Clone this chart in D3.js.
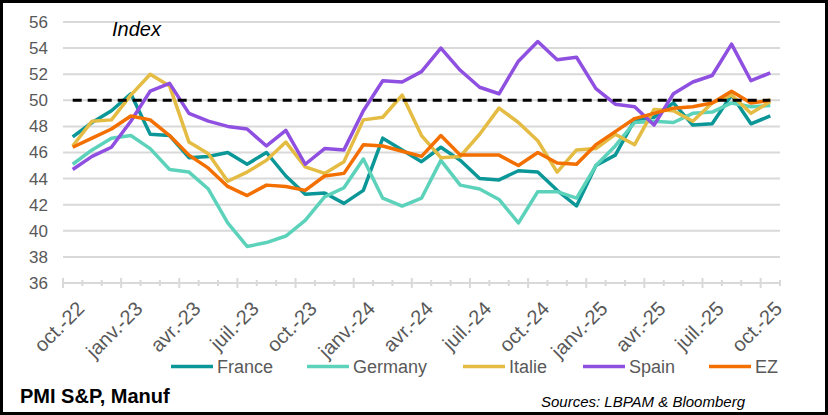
<!DOCTYPE html>
<html>
<head>
<meta charset="utf-8">
<script src="https://cdn.jsdelivr.net/npm/d3@7"></script>
<style>
  body { margin: 0; background: #fff; }
  svg { font-family: "Liberation Sans", Arial, sans-serif; }
</style>
</head>
<body>
<svg id="chart"></svg>
<script>
let months = ['oct.-22','nov.-22','déc.-22','janv.-23','févr.-23','mars-23','avr.-23','mai-23','juin-23','juil.-23','août-23','sept.-23',
  'oct.-23','nov.-23','déc.-23','janv.-24','févr.-24','mars-24','avr.-24','mai-24','juin-24','juil.-24','août-24','sept.-24',
  'oct.-24','nov.-24','déc.-24','janv.-25','févr.-25','mars-25','avr.-25','mai-25','juin-25','juil.-25','août-25','sept.-25','oct.-25']

let france  = [47.2,48.3,49.2,50.5,47.4,47.3,45.6,45.7,46.0,45.1,46.0,44.2,42.8,42.9,42.1,43.1,47.1,46.2,45.3,46.4,45.4,44.0,43.9,44.6,44.5,43.1,41.9,45.0,45.8,48.5,48.7,49.8,48.1,48.2,50.4,48.2,48.8]
let germany = [45.1,46.2,47.1,47.3,46.3,44.7,44.5,43.2,40.6,38.8,39.1,39.6,40.8,42.6,43.3,45.5,42.5,41.9,42.5,45.4,43.5,43.2,42.4,40.6,43.0,43.0,42.5,45.0,46.5,48.3,48.4,48.3,49.0,49.1,49.8,49.5,49.6]
let italie  = [46.5,48.4,48.5,50.4,52.0,51.1,46.8,45.9,43.8,44.5,45.4,46.8,44.9,44.4,45.3,48.5,48.7,50.4,47.3,45.6,45.7,47.4,49.4,48.3,46.9,44.5,46.2,46.3,47.4,46.6,49.3,49.2,48.4,49.8,50.4,49.0,49.9]
let spain   = [44.7,45.7,46.4,48.4,50.7,51.3,49.0,48.4,48.0,47.8,46.5,47.7,45.1,46.3,46.2,49.2,51.5,51.4,52.2,54.0,52.3,51.0,50.5,53.0,54.5,53.1,53.3,50.9,49.7,49.5,48.1,50.5,51.4,51.9,54.3,51.5,52.1]
let ez      = [46.4,47.1,47.8,48.8,48.5,47.3,45.8,44.8,43.4,42.7,43.5,43.4,43.1,44.2,44.4,46.6,46.5,46.1,45.7,47.3,45.8,45.8,45.8,45.0,46.0,45.2,45.1,46.6,47.6,48.6,49.0,49.4,49.5,49.8,50.7,49.8,50.0]
let threshold = 50

let seriesNames  = ['France','Germany','Italie','Spain','EZ']
let seriesColors = ['#0b9797','#5cd2bb','#e5bc43','#8f4fe0','#f26f00']
let yTicks = [36,38,40,42,44,46,48,50,52,54,56]

let width = 828
let height = 415
let padLeft = 63
let padRight = 780
let padTop = 22
let padBottom = 283

let svg = d3.select('#chart').attr('width', width).attr('height', height)

let xScale = d3.scaleBand().domain(months).range([padLeft, padRight])
let yScale = d3.scaleLinear().domain([36, 56]).range([padBottom, padTop])
let cx = (m) => xScale(m) + xScale.bandwidth() / 2

// frame
svg.append('rect').attr('x', 1.5).attr('y', 1.5).attr('width', width - 3).attr('height', height - 3)
  .attr('fill', 'none').attr('stroke', '#000').attr('stroke-width', 3)

// gridlines
svg.append('g').selectAll('line').data(yTicks.slice(1)).enter().append('line')
  .attr('x1', padLeft).attr('x2', padRight)
  .attr('y1', d => yScale(d)).attr('y2', d => yScale(d))
  .attr('stroke', '#d9d9d9').attr('stroke-width', 2)

// y axis labels
let yAxis = d3.axisLeft(yScale).tickValues(yTicks).tickSize(0).tickPadding(15)
let yg = svg.append('g').attr('transform', 'translate(' + padLeft + ',0)').call(yAxis)
yg.select('.domain').remove()
yg.selectAll('text').attr('font-size', 17).attr('fill', '#595959').attr('font-family', '"Liberation Sans", Arial, sans-serif')

// x axis line and ticks
svg.append('line').attr('x1', padLeft).attr('x2', padRight).attr('y1', padBottom).attr('y2', padBottom)
  .attr('stroke', '#d9d9d9').attr('stroke-width', 2)
let bounds = months.map(m => xScale(m)).concat([padRight])
svg.append('g').selectAll('line').data(bounds).enter().append('line')
  .attr('x1', d => d).attr('x2', d => d)
  .attr('y1', (d, i) => i % 3 === 0 ? padBottom - 5 : padBottom - 3)
  .attr('y2', (d, i) => i % 3 === 0 ? padBottom + 5 : padBottom + 3)
  .attr('stroke', '#d9d9d9').attr('stroke-width', 2)

// x labels
svg.append('g').selectAll('text').data(months.filter((m, i) => i % 3 === 0)).enter().append('text')
  .attr('transform', d => 'translate(' + (cx(d) + 8) + ',' + (padBottom + 22) + ') rotate(-45)')
  .attr('text-anchor', 'end').attr('dy', '0.35em')
  .attr('font-size', 20).attr('fill', '#595959')
  .text(d => d)

// lines
let allSeries = [france, germany, italie, spain, ez]
let line = d3.line().x((d, i) => cx(months[i])).y(d => yScale(d))
allSeries.forEach((s, k) => {
  svg.append('path').datum(s).attr('d', line)
    .attr('fill', 'none').attr('stroke', seriesColors[k]).attr('stroke-width', 3.5)
    .attr('stroke-linejoin', 'round')
})

// 50 threshold
svg.append('path').datum(months.map(() => threshold)).attr('d', line)
  .attr('fill', 'none').attr('stroke', '#000').attr('stroke-width', 3)
  .attr('stroke-dasharray', '9,6')

// title
svg.append('text').attr('x', 112).attr('y', 36).attr('font-size', 20).attr('font-style', 'italic')
  .attr('fill', '#000').text('Index')

// legend
let legendX = [171, 307, 463, 583, 709]
let lg = svg.append('g').selectAll('g').data(seriesNames).enter().append('g')
  .attr('transform', (d, i) => 'translate(' + legendX[i] + ',366.5)')
lg.append('line').attr('x1', 0).attr('x2', 42).attr('y1', 0).attr('y2', 0)
  .attr('stroke', (d, i) => seriesColors[i]).attr('stroke-width', 3.5)
lg.append('text').attr('x', 46).attr('dy', '0.35em').attr('font-size', 18).attr('fill', '#595959')
  .text(d => d)

// footer
svg.append('text').attr('x', 20).attr('y', 403).attr('font-size', 20).attr('font-weight', 'bold')
  .attr('fill', '#000').text('PMI S&P, Manuf')
svg.append('text').attr('x', 541).attr('y', 407).attr('font-size', 15).attr('font-style', 'italic')
  .attr('fill', '#000').text('Sources: LBPAM & Bloomberg')
</script>
</body>
</html>
